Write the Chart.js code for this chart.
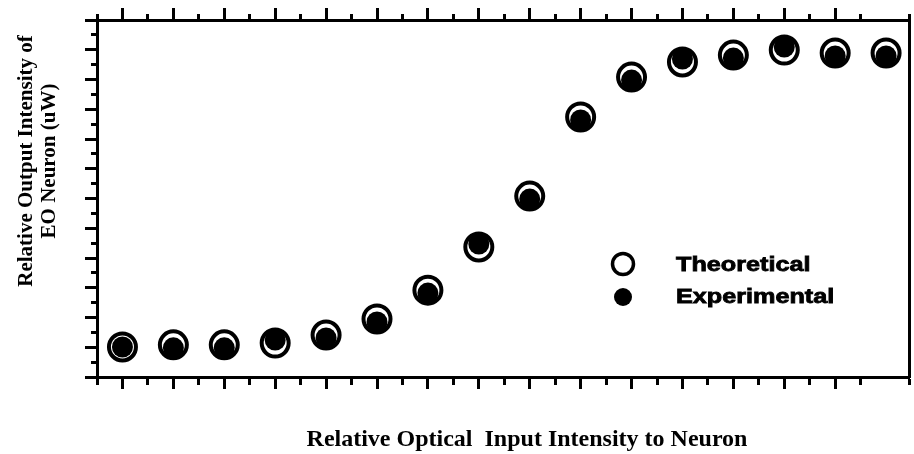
<!DOCTYPE html>
<html>
<head>
<meta charset="utf-8">
<title>EO Neuron response</title>
<script src="https://cdn.jsdelivr.net/npm/chart.js@4"></script>
<style>
  body { margin: 0; background: #fff; }
  canvas { display: block; }
</style>
</head>
<body>
<canvas id="neuronChart" width="914" height="454"></canvas>
<script>
// Input levels (no tick labels on the original axes)
const inputLevels = [0, 1, 2, 3, 4, 5, 6, 7, 8, 9, 10, 11, 12, 13, 14, 15];

// Relative output intensity
const theoretical  = [1.01, 1.08, 1.08, 1.14, 1.41, 1.95, 2.92, 4.37, 6.08, 8.74, 10.08, 10.59, 10.82, 10.99, 10.89, 10.89];
const experimental = [1.01, 0.98, 0.98, 1.24, 1.31, 1.85, 2.82, 4.47, 5.98, 8.64, 9.98, 10.69, 10.72, 11.09, 10.79, 10.79];

const seriesNames = ["Theoretical", "Experimental"];
const xTitle = "Relative Optical  Input Intensity to Neuron";
const yTitle = ["Relative Output Intensity of", "EO Neuron (uW)"];

// Build point lists for the scatter datasets
const theoPoints = inputLevels.map((x, i) => ({ x: x, y: theoretical[i] }));
const expPoints = inputLevels.map((x, i) => ({ x: x, y: experimental[i] }));

// Tick marks: long at whole steps, short at half steps
const MAJOR = 12, MINOR = 6, GAP = 100;
const isMajor = ctx => Math.abs(ctx.tick.value - Math.round(ctx.tick.value)) < 1e-6;

// outward = tick is drawn from the border outwards (bottom axis)
function tickGrid(outward) {
    return {
        drawOnChartArea: false,
        drawTicks: true,
        tickLength: MAJOR,
        tickWidth: 3,
        tickColor: "#000",
        tickBorderDash: ctx => isMajor(ctx) ? [] : [MINOR, GAP],
        tickBorderDashOffset: ctx => (isMajor(ctx) || outward) ? 0 : GAP + MINOR - (MAJOR - MINOR)
    };
}

// Titles and the in-plot legend
const textPlugin = {
    id: "texts",
    afterDraw(chart) {
        const ctx = chart.ctx;
        ctx.save();
        ctx.fillStyle = "#000";
        ctx.strokeStyle = "#000";
        ctx.textAlign = "center";
        ctx.textBaseline = "middle";

        // y title, two rotated lines
        ctx.font = 'bold 21px "Liberation Serif"';
        [[27, yTitle[0]], [50, yTitle[1]]].forEach(([x, t]) => {
            ctx.save();
            ctx.translate(x, 161);
            ctx.rotate(-Math.PI / 2);
            ctx.fillText(t, 0, 0);
            ctx.restore();
        });

        // x title
        ctx.font = 'bold 24px "Liberation Serif"';
        ctx.fillText(xTitle, 527, 440);

        // legend markers
        ctx.lineWidth = 3.5;
        ctx.beginPath();
        ctx.arc(623, 264, 10.5, 0, Math.PI * 2);
        ctx.stroke();
        ctx.beginPath();
        ctx.arc(623, 297, 9, 0, Math.PI * 2);
        ctx.fill();

        // legend text, wide and heavy like the original
        ctx.textAlign = "left";
        ctx.textBaseline = "alphabetic";
        ctx.font = 'bold 20px "Liberation Sans"';
        ctx.lineWidth = 0.8;
        [[271, seriesNames[0]], [303, seriesNames[1]]].forEach(([y, t]) => {
            ctx.save();
            ctx.translate(676, y);
            ctx.scale(1.26, 1);
            ctx.fillText(t, 0, 0);
            ctx.strokeText(t, 0, 0);
            ctx.restore();
        });
        ctx.restore();
    }
};

const chart = new Chart(document.getElementById("neuronChart"), {
    type: "scatter",
    data: {
        datasets: [
            {
                label: seriesNames[0],
                data: theoPoints,
                order: 2,
                pointStyle: "circle",
                pointRadius: 13.5,
                pointBorderWidth: 4,
                pointBackgroundColor: "#fff",
                pointBorderColor: "#000"
            },
            {
                label: seriesNames[1],
                data: expPoints,
                order: 1,
                pointStyle: "circle",
                pointRadius: 10.5,
                pointBorderWidth: 0,
                pointBackgroundColor: "#000",
                pointBorderColor: "#000"
            }
        ]
    },
    options: {
        responsive: false,
        animation: false,
        events: [],
        layout: {
            autoPadding: false,
            padding: { left: 85, right: 5, top: 8, bottom: 65 }
        },
        plugins: {
            legend: { display: false },
            tooltip: { enabled: false }
        },
        scales: {
            x: {
                type: "linear",
                position: "bottom",
                min: -0.5,
                max: 15.45,
                ticks: { display: false, stepSize: 0.5 },
                grid: tickGrid(true),
                border: { display: true, width: 3, color: "#000" }
            },
            xTop: {
                type: "linear",
                position: "top",
                min: -0.5,
                max: 15.45,
                ticks: { display: false, stepSize: 0.5 },
                grid: tickGrid(false),
                border: { display: true, width: 3, color: "#000" }
            },
            y: {
                type: "linear",
                position: "left",
                min: 0,
                max: 12,
                ticks: { display: false, stepSize: 0.5 },
                grid: tickGrid(false),
                border: { display: true, width: 3, color: "#000" }
            },
            yRight: {
                type: "linear",
                position: "right",
                min: 0,
                max: 12,
                ticks: { display: false },
                grid: { drawOnChartArea: false, drawTicks: false },
                border: { display: true, width: 3, color: "#000" }
            }
        }
    },
    plugins: [textPlugin]
});
</script>
</body>
</html>
